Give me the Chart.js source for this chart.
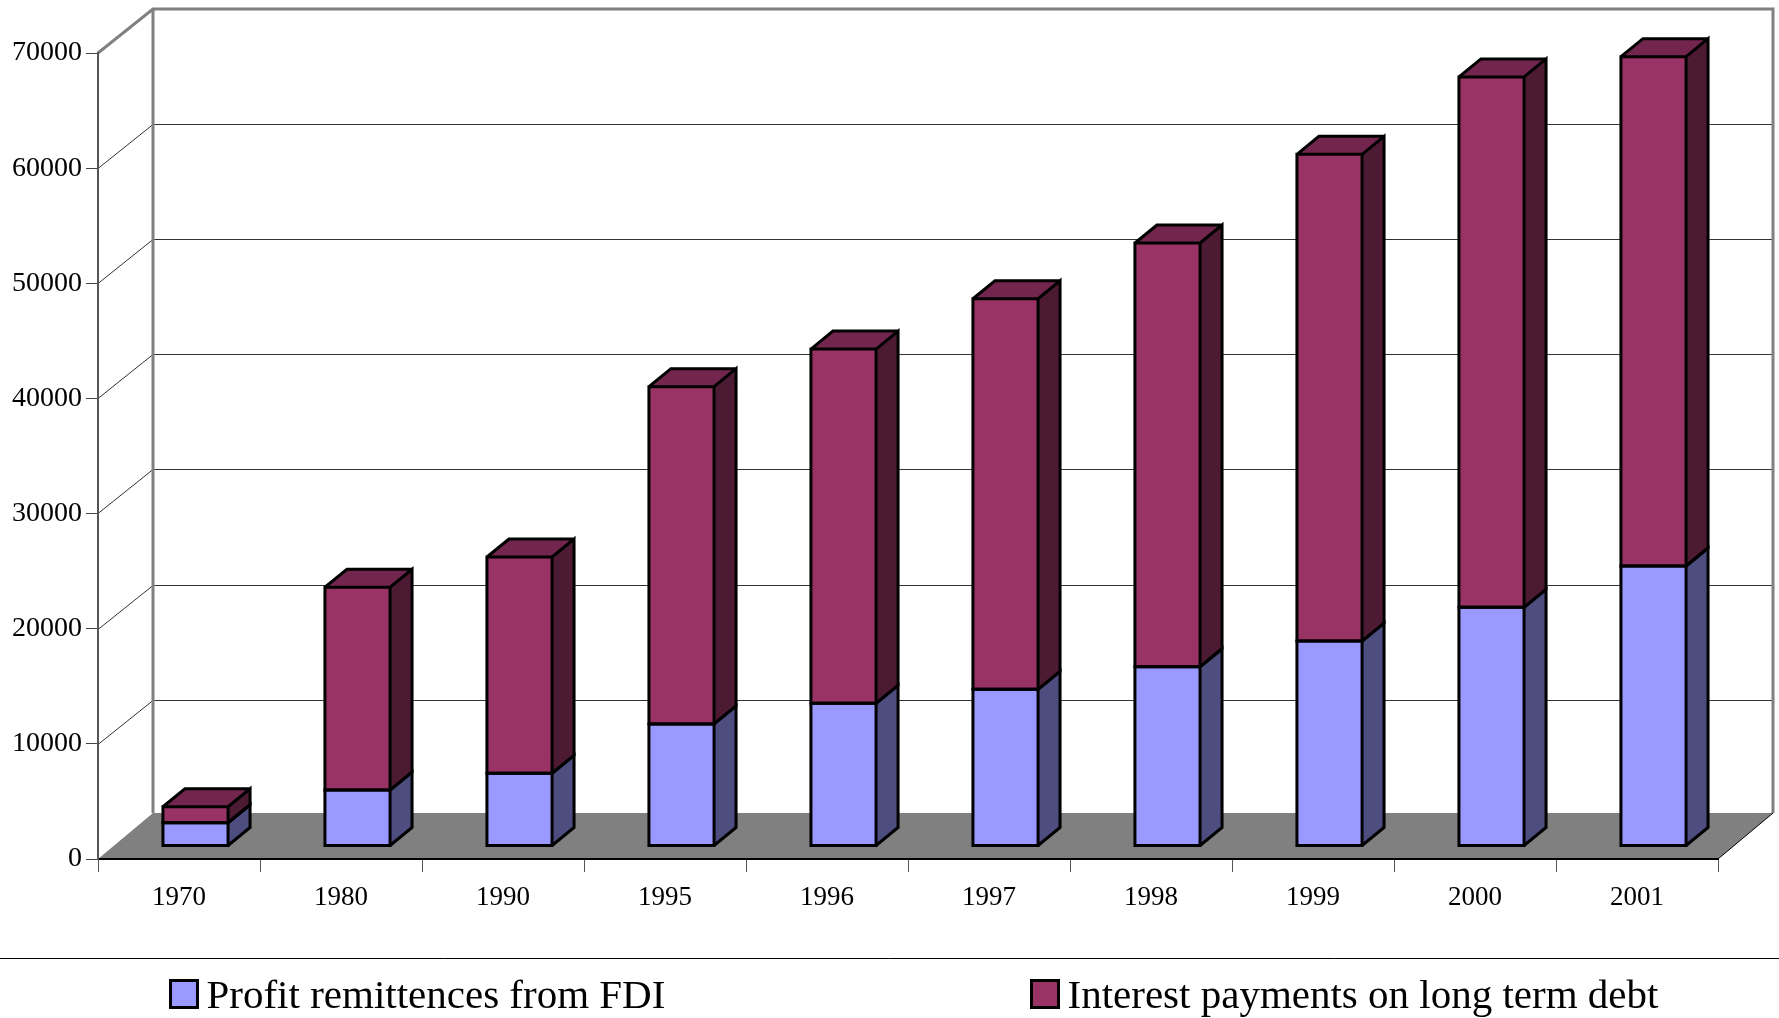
<!DOCTYPE html>
<html>
<head>
<meta charset="utf-8">
<title>Profit remittances and interest payments</title>
<script src="https://cdn.jsdelivr.net/npm/chart.js@4/dist/chart.umd.js"></script>
<style>
  html, body { margin: 0; padding: 0; background: #fff; overflow: hidden; }
  canvas { display: block; }
</style>
</head>
<body>
<canvas id="chart" width="1779" height="1018"></canvas>
<script>
const years = ['1970', '1980', '1990', '1995', '1996', '1997', '1998', '1999', '2000', '2001'];
const profitRemittances = [2020, 4860, 6310, 10600, 12390, 13610, 15570, 17800, 20730, 24320];
const interestPayments = [1390, 17610, 18790, 29290, 30770, 33920, 36800, 42270, 46060, 44230];

const FONT = '"Liberation Serif", "Times New Roman", serif';
const WALL_GREY = '#808080';

// how far the back wall sits behind the front axes
const WALL_DX = 55;
const WALL_DY = -44;
const FLOOR_DY = -46;
// front face of the bars, measured from the front axes
const BAR_DX = 16.5;
const BAR_DY = -13;
// depth of one bar
const DEPTH_DX = 22;
const DEPTH_DY = -18;

const seriesColors = [
    { front: '#9999ff', side: '#4d4d80', top: '#73738f' },
    { front: '#993366', side: '#4d1a33', top: '#73264d' }
];

const wallPlugin = {
    id: 'wall',
    beforeDraw(chart) {
        const { ctx, chartArea: { left, right, top, bottom } } = chart;
        const yScale = chart.scales.y;
        const backLeft = left + WALL_DX;
        const backRight = right + WALL_DX;
        const backTop = top + WALL_DY;
        const floorBack = bottom + FLOOR_DY;

        ctx.save();

        // floor
        ctx.fillStyle = WALL_GREY;
        ctx.beginPath();
        ctx.moveTo(left, bottom);
        ctx.lineTo(right, bottom);
        ctx.lineTo(backRight, floorBack);
        ctx.lineTo(backLeft, floorBack);
        ctx.closePath();
        ctx.fill();

        // gridlines run along the side wall and then across the back
        ctx.strokeStyle = '#333';
        ctx.lineWidth = 1;
        yScale.ticks.forEach(tick => {
            if (tick.value === 0 || tick.value === yScale.max) return;
            const y = Math.round(yScale.getPixelForValue(tick.value) - 0.1);
            ctx.beginPath();
            ctx.moveTo(left, y + 0.5);
            ctx.lineTo(backLeft, y + WALL_DY + 0.5);
            ctx.lineTo(backRight, y + WALL_DY + 0.5);
            ctx.stroke();
        });

        // wall frame
        ctx.strokeStyle = WALL_GREY;
        ctx.lineWidth = 3;
        ctx.beginPath();
        ctx.moveTo(left, top);
        ctx.lineTo(backLeft, backTop);
        ctx.lineTo(backRight, backTop);
        ctx.lineTo(backRight, floorBack);
        ctx.moveTo(backLeft, backTop);
        ctx.lineTo(backLeft, floorBack);
        ctx.stroke();

        // right edge of the floor
        ctx.strokeStyle = '#000';
        ctx.lineWidth = 1;
        ctx.beginPath();
        ctx.moveTo(right, bottom);
        ctx.lineTo(backRight, floorBack);
        ctx.stroke();

        ctx.restore();
    }
};

// Extrudes the stacked bars: side and top faces go in behind the fronts
// Chart.js draws, black outlines go on afterwards.
const extrudePlugin = {
    id: 'extrude',
    beforeDatasetsDraw(chart) {
        const ctx = chart.ctx;
        ctx.save();
        ctx.translate(BAR_DX, BAR_DY);

        chart.data.datasets.forEach((ds, i) => {
            const colors = seriesColors[i];
            chart.getDatasetMeta(i).data.forEach(bar => {
                const right = bar.x + bar.width / 2;
                const left = bar.x - bar.width / 2;
                ctx.fillStyle = colors.side;
                ctx.beginPath();
                ctx.moveTo(right, bar.base);
                ctx.lineTo(right + DEPTH_DX, bar.base + DEPTH_DY);
                ctx.lineTo(right + DEPTH_DX, bar.y + DEPTH_DY);
                ctx.lineTo(right, bar.y);
                ctx.closePath();
                ctx.fill();

                if (i === chart.data.datasets.length - 1) {
                    ctx.fillStyle = colors.top;
                    ctx.beginPath();
                    ctx.moveTo(left, bar.y);
                    ctx.lineTo(left + DEPTH_DX, bar.y + DEPTH_DY);
                    ctx.lineTo(right + DEPTH_DX, bar.y + DEPTH_DY);
                    ctx.lineTo(right, bar.y);
                    ctx.closePath();
                    ctx.fill();
                }
            });
        });
    },
    afterDatasetsDraw(chart) {
        const ctx = chart.ctx;
        ctx.strokeStyle = '#000';
        ctx.lineWidth = 3;
        ctx.lineJoin = 'miter';

        chart.data.datasets.forEach((ds, i) => {
            const isTop = i === chart.data.datasets.length - 1;
            chart.getDatasetMeta(i).data.forEach(bar => {
                const right = bar.x + bar.width / 2;
                const left = bar.x - bar.width / 2;
                ctx.beginPath();
                ctx.rect(left, bar.y, bar.width, bar.base - bar.y);
                ctx.moveTo(right, bar.base);
                ctx.lineTo(right + DEPTH_DX, bar.base + DEPTH_DY);
                ctx.lineTo(right + DEPTH_DX, bar.y + DEPTH_DY);
                ctx.lineTo(right, bar.y);
                if (isTop) {
                    ctx.moveTo(left, bar.y);
                    ctx.lineTo(left + DEPTH_DX, bar.y + DEPTH_DY);
                    ctx.lineTo(right + DEPTH_DX, bar.y + DEPTH_DY);
                }
                ctx.stroke();
            });
        });

        ctx.restore();
    }
};

// Legend sits under a rule and has a tighter box/text gap than the built-in one
const legendPlugin = {
    id: 'ruledLegend',
    afterDraw(chart) {
        const ctx = chart.ctx;
        const boxLefts = [170.5, 1031.5];
        const boxTop = 980.5;
        const boxSize = 27;
        const baseline = 1008;

        ctx.save();
        ctx.strokeStyle = '#000';
        ctx.lineWidth = 1;
        ctx.beginPath();
        ctx.moveTo(0, 958.5);
        ctx.lineTo(chart.width, 958.5);
        ctx.stroke();

        ctx.font = '41px ' + FONT;
        ctx.textBaseline = 'alphabetic';
        ctx.textAlign = 'left';
        chart.data.datasets.forEach((ds, i) => {
            ctx.fillStyle = ds.backgroundColor;
            ctx.fillRect(boxLefts[i], boxTop, boxSize, boxSize);
            ctx.lineWidth = 3;
            ctx.strokeRect(boxLefts[i], boxTop, boxSize, boxSize);
            ctx.fillStyle = '#000';
            ctx.fillText(ds.label, boxLefts[i] + boxSize + 9, baseline);
        });
        ctx.restore();
    }
};

new Chart(document.getElementById('chart'), {
    type: 'bar',
    data: {
        labels: years,
        datasets: [
            {
                label: 'Profit remittences from FDI',
                data: profitRemittances,
                backgroundColor: seriesColors[0].front,
                borderWidth: 0,
                barPercentage: 0.402,
                categoryPercentage: 1,
                clip: false
            },
            {
                label: 'Interest payments on long term debt',
                data: interestPayments,
                backgroundColor: seriesColors[1].front,
                borderWidth: 0,
                barPercentage: 0.402,
                categoryPercentage: 1,
                clip: false
            }
        ]
    },
    options: {
        responsive: false,
        animation: false,
        layout: { padding: { left: 0, right: 61, top: 53, bottom: 0 } },
        plugins: {
            legend: { display: false },
            tooltip: { enabled: false }
        },
        scales: {
            x: {
                stacked: true,
                afterFit: scale => { scale.height = 159; },
                border: { color: '#000', width: 2 },
                grid: {
                    drawOnChartArea: false,
                    tickLength: 13,
                    tickColor: '#555',
                    tickWidth: 1
                },
                ticks: {
                    color: '#000',
                    padding: 10,
                    maxRotation: 0,
                    font: { family: FONT, size: 27 }
                }
            },
            y: {
                stacked: true,
                min: 0,
                max: 70000,
                afterFit: scale => { scale.width = 98; },
                border: { color: '#555', width: 2 },
                grid: {
                    drawOnChartArea: false,
                    tickLength: 12,
                    tickColor: '#444',
                    tickWidth: 1
                },
                ticks: {
                    stepSize: 10000,
                    color: '#000',
                    padding: 4,
                    callback: value => String(value),
                    font: { family: FONT, size: 28 }
                }
            }
        }
    },
    plugins: [wallPlugin, extrudePlugin, legendPlugin]
});
</script>
</body>
</html>
